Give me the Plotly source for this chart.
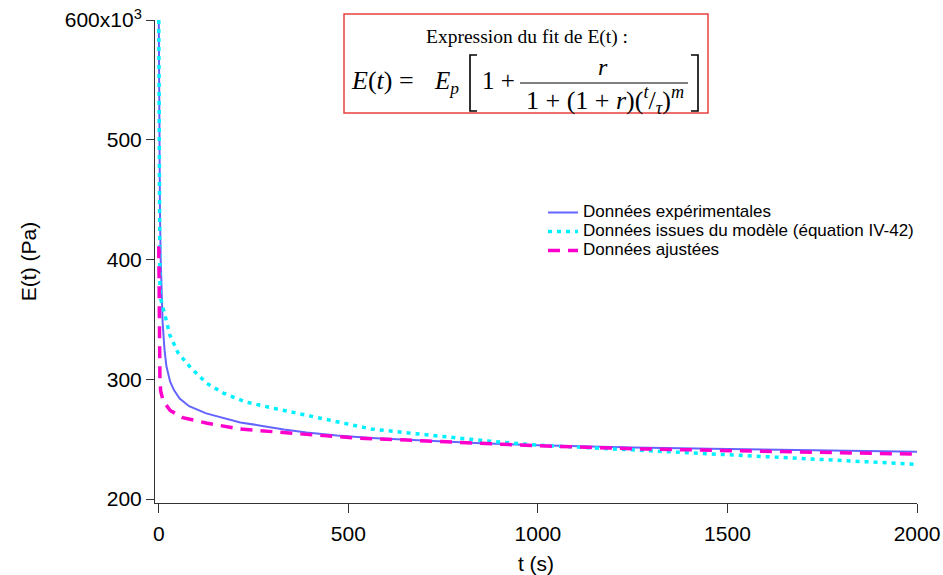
import plotly.graph_objects as go

# ---------------- data (E in units of 10^3 Pa) ----------------
t_exp = [0, 0.5, 1, 2, 3, 5, 7, 10, 15, 20, 30, 40, 55, 80, 125, 170, 215, 265, 330, 390,
         470, 560, 650, 740, 850, 1000, 1250, 1500, 1750, 2000]
E_exp = [600, 560, 520, 470, 440, 400, 370, 348, 325, 311, 298, 291, 284, 277.5, 271.5, 267.5,
         264, 261.5, 258, 255.5, 253, 251, 249.5, 248, 246.5, 245, 243, 241.7, 240.5, 239.5]

t_mod = [0, 0.5, 1, 2, 3, 5, 10, 16, 29, 51, 82, 125, 170, 230, 300, 390, 475, 560, 650, 740,
         850, 1000, 1250, 1500, 1750, 2000]
E_mod = [600, 520, 440, 395, 375, 367, 360, 354, 337, 322, 310.5, 297, 288.5, 281, 276, 270,
         264, 258.5, 255.5, 252.5, 249, 245, 241, 237.5, 233, 229]

t_fit = [0, 0.5, 1, 2, 3, 5, 10, 16, 30, 63, 125, 213, 300, 390, 520, 700, 850, 1000, 1250,
         1500, 1750, 2000]
E_fit = [411, 385, 360, 320, 300, 290, 284, 280, 274, 268, 263.5, 258.5, 256, 254, 251, 248.5,
         246, 244.5, 242, 240.5, 239, 237.5]

x_ticks = [0, 500, 1000, 1500, 2000]
y_ticks = [200, 300, 400, 500, 600]
y_ticktext = ["200", "300", "400", "500", "600x10<sup>3</sup>"]

names = ["Données expérimentales",
         "Données issues du modèle (équation IV-42)",
         "Données ajustées"]

# ---------------- layout helpers (screen pixel -> paper) ----------------
W, H = 943, 575
L, R, T, B = 155, 26, 20, 72
PW, PH = W - L - R, H - T - B


def px(x):
    return (x - L) / PW


def py(y):
    return (T + PH - y) / PH


LEG_SIZE = 17
fig = go.Figure()
fig.add_trace(go.Scatter(x=t_exp, y=E_exp, mode="lines",
                         name=f'<span style="font-size:{LEG_SIZE}px">{names[0]}</span>',
                         line=dict(color="#6464FF", width=2)))
fig.add_trace(go.Scatter(x=t_mod, y=E_mod, mode="lines",
                         name=f'<span style="font-size:{LEG_SIZE}px">{names[1]}</span>',
                         line=dict(color="#00F0FF", width=3.5, dash="4px,5px")))
fig.add_trace(go.Scatter(x=t_fit, y=E_fit, mode="lines",
                         name=f'<span style="font-size:{LEG_SIZE}px">{names[2]}</span>',
                         line=dict(color="#FF00CC", width=3.5, dash="12px,8px")))

axis_font = dict(family="Arial, Liberation Sans, sans-serif", size=21, color="black")
fig.update_layout(
    width=W, height=H,
    margin=dict(l=L, r=R, t=T, b=B, autoexpand=False),
    plot_bgcolor="white", paper_bgcolor="white",
    font=axis_font,
    showlegend=True,
    legend=dict(x=px(543), y=py(198), xanchor="left", yanchor="top",
                bgcolor="rgba(0,0,0,0)",
                font=dict(family="Arial, Liberation Sans, sans-serif", size=10.5, color="black"),
                tracegroupgap=0, itemwidth=30),
    xaxis=dict(range=[-10, 2000], tickvals=x_ticks, showgrid=False, zeroline=False,
               showline=True, linecolor="#333333", linewidth=1,
               ticks="outside", ticklen=9, tickcolor="#333333",
               tickfont=axis_font, automargin=False, ticklabelstandoff=3,
               ticklabeloverflow="allow",
               title=dict(text="t (s)", font=axis_font, standoff=12)),
    yaxis=dict(range=[196.7, 600], tickvals=y_ticks, ticktext=y_ticktext,
               showgrid=False, zeroline=False,
               showline=True, linecolor="#333333", linewidth=1,
               ticks="outside", ticklen=8, tickcolor="#333333",
               tickfont=axis_font, automargin=False, ticklabeloverflow="allow",
               title=dict(text="E(t) (Pa)", font=axis_font, standoff=22)),
)

serif = "Liberation Serif, Times New Roman, serif"
shapes = [
    dict(type="rect", xref="paper", yref="paper", x0=px(344), x1=px(708), y0=py(14), y1=py(113),
         line=dict(color="#E8403F", width=1.5), fillcolor="white", layer="above"),
    dict(type="line", xref="paper", yref="paper", x0=px(520), x1=px(688), y0=py(83), y1=py(83),
         line=dict(color="black", width=1.2), layer="above"),
    dict(type="path", xref="paper", yref="paper", layer="above",
         path=f"M {px(477)} {py(55)} L {px(470)} {py(55)} L {px(470)} {py(111)} L {px(477)} {py(111)}",
         line=dict(color="black", width=1.6)),
    dict(type="path", xref="paper", yref="paper", layer="above",
         path=f"M {px(691)} {py(55)} L {px(698)} {py(55)} L {px(698)} {py(111)} L {px(691)} {py(111)}",
         line=dict(color="black", width=1.6)),
]
fig.update_layout(shapes=shapes)

ann = [
    ("Expression du fit de E(t) :", 527, 37, 19.5),
    ("<i>E</i>(<i>t</i>) =", 382, 80, 26),
    ("<i>E</i><sub><i>p</i></sub>", 446, 82, 25),
    ("1 +", 498, 80, 25),
    ("<i>r</i>", 603, 67, 24),
    ("1 + (1 + <i>r</i>)(<sup><i>t</i></sup>/<sub><i>τ</i></sub>)<sup><i>m</i></sup>", 605, 100, 26),
]
for text, x, y, s in ann:
    fig.add_annotation(text=text, xref="paper", yref="paper", x=px(x), y=py(y),
                       xanchor="center", yanchor="middle", showarrow=False,
                       font=dict(family=serif, size=s, color="black"))

fig.write_html("out.html", config={"displayModeBar": False},
               post_script="document.body.style.margin='0';")
